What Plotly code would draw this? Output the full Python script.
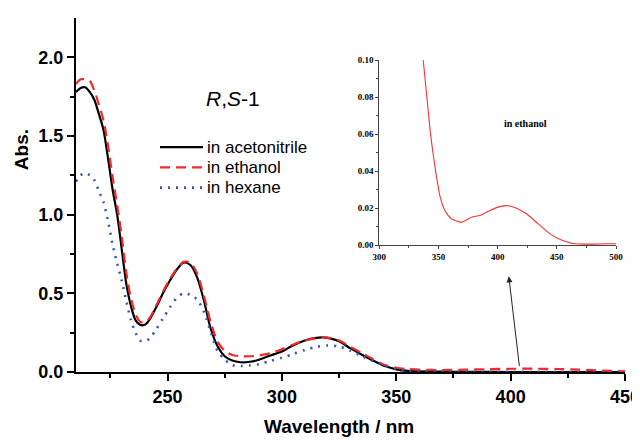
import plotly.graph_objects as go

# ---------------- data ----------------
wl_acn = [210, 212, 214, 216, 218, 220, 222, 224, 226, 228, 230, 232, 234, 236, 238, 240, 242, 245, 248, 251,
          254, 257, 260, 263, 266, 269, 272, 275, 278, 282, 286, 290, 295, 300, 305, 310, 315, 318, 320, 325,
          330, 335, 340, 345, 350, 355, 360, 370, 380, 400, 450]
abs_acn = [1.78, 1.805, 1.81, 1.78, 1.73, 1.64, 1.54, 1.36, 1.16, 1.00, 0.78, 0.56, 0.42, 0.33, 0.30, 0.30, 0.33,
           0.41, 0.50, 0.58, 0.65, 0.695, 0.68, 0.60, 0.45, 0.27, 0.16, 0.10, 0.075, 0.062, 0.065, 0.078, 0.105,
           0.13, 0.17, 0.20, 0.217, 0.22, 0.217, 0.195, 0.15, 0.11, 0.072, 0.038, 0.017, 0.007, 0.004, 0.002,
           0.001, 0.0, 0.0]

wl_eth = [210, 212, 214, 216, 218, 220, 222, 224, 226, 228, 230, 232, 234, 236, 238, 240, 242, 245, 248, 251,
          254, 257, 260, 263, 266, 269, 272, 275, 278, 282, 286, 290, 295, 300, 305, 310, 315, 318, 320, 325,
          330, 335, 340, 345, 350, 355, 360, 370, 380, 390, 400, 410, 420, 430, 440, 450]
abs_eth = [1.83, 1.86, 1.86, 1.85, 1.79, 1.70, 1.60, 1.44, 1.24, 1.06, 0.86, 0.63, 0.47, 0.37, 0.32, 0.315, 0.34,
           0.42, 0.51, 0.59, 0.655, 0.70, 0.695, 0.625, 0.48, 0.31, 0.19, 0.135, 0.11, 0.10, 0.10, 0.105, 0.12,
           0.145, 0.175, 0.20, 0.215, 0.22, 0.218, 0.20, 0.16, 0.12, 0.08, 0.045, 0.027, 0.019, 0.015, 0.0125,
           0.015, 0.018, 0.0205, 0.021, 0.019, 0.015, 0.009, 0.004]

wl_hex = [210, 212, 214, 216, 218, 220, 222, 224, 226, 228, 230, 232, 234, 236, 238, 240, 242, 245, 248, 251,
          254, 257, 260, 263, 266, 269, 272, 275, 278, 282, 286, 290, 295, 300, 305, 310, 315, 320, 325, 330,
          335, 340, 345, 350, 355, 360, 370, 400, 450]
abs_hex = [1.21, 1.25, 1.265, 1.25, 1.22, 1.15, 1.08, 0.96, 0.81, 0.69, 0.58, 0.45, 0.33, 0.25, 0.20, 0.195, 0.21,
           0.27, 0.34, 0.41, 0.47, 0.50, 0.49, 0.46, 0.38, 0.25, 0.13, 0.08, 0.046, 0.038, 0.042, 0.05, 0.07, 0.09,
           0.115, 0.14, 0.16, 0.168, 0.162, 0.135, 0.10, 0.07, 0.04, 0.02, 0.008, 0.004, 0.002, 0.001, 0.0]

# inset: ethanol, long-wavelength region
wl_ins = [337.1, 340.5, 343.3, 347.0, 351.2, 355.4, 361.0, 369.5, 377.9, 385.0, 393.4, 401.8, 408.9, 415.9,
          424.3, 434.2, 444.0, 453.9, 463.7, 477.8, 491.8, 500.0]
abs_ins = [0.100, 0.078, 0.060, 0.0426, 0.0266, 0.0187, 0.0142, 0.0124, 0.0151, 0.0160, 0.0187, 0.0208, 0.0213,
           0.0199, 0.0169, 0.0115, 0.0062, 0.0027, 0.0009, 0.0005, 0.0007, 0.0007]

series_names = ["in acetonitrile", "in ethanol", "in hexane"]
main_xticks = [250, 300, 350, 400, 450]
main_yticks = [0.0, 0.5, 1.0, 1.5, 2.0]
inset_xticks = [300, 350, 400, 450, 500]
inset_yticks = [0.00, 0.02, 0.04, 0.06, 0.08, 0.10]

# ---------------- styles ----------------
BLACK = "#000000"
RED = "#ee2a2a"
BLUE = "#3a55b5"
SANS = "Liberation Sans, Arial, sans-serif"
SERIF = "Liberation Serif, Times New Roman, serif"

OFF = 8  # page body margin offset
W, H = 640, 441 - OFF
# plot area in page pixels: x 76..625, y 13..372
L, T = 76 - OFF, 13 - OFF
R = W - (625 - OFF)
B = H - (372 - OFF)
PW, PH = W - L - R, H - T - B


def px(xp):  # page pixel x -> paper
    return (xp - 76) / PW


def py(yp):  # page pixel y -> paper
    return (372 - yp) / PH


fig = go.Figure()
fig.add_trace(go.Scatter(x=wl_acn, y=abs_acn, mode="lines", name=series_names[0],
                         line=dict(color=BLACK, width=2.2, shape="spline", smoothing=0.8)))
fig.add_trace(go.Scatter(x=wl_eth, y=abs_eth, mode="lines", name=series_names[1],
                         line=dict(color=RED, width=2.2, dash="10px,6px", shape="spline", smoothing=0.8)))
fig.add_trace(go.Scatter(x=wl_hex, y=abs_hex, mode="lines", name=series_names[2],
                         line=dict(color=BLUE, width=2.6, dash="2px,6px", shape="spline", smoothing=0.8)))
fig.add_trace(go.Scatter(x=wl_ins, y=abs_ins, mode="lines", xaxis="x2", yaxis="y2",
                         line=dict(color="#ff3030", width=1.1, shape="spline", smoothing=0.6)))

tick_font = dict(family=SANS, size=18, color="black", weight="bold")
ins_font = dict(family=SERIF, size=9, color="black", weight="bold")

fig.update_layout(
    width=W, height=H,
    margin=dict(l=L, r=R, t=T, b=B, pad=0),
    plot_bgcolor="white", paper_bgcolor="white",
    showlegend=False,
    xaxis=dict(range=[210, 450], tickvals=main_xticks, ticktext=[str(v) for v in main_xticks],
               showline=True, linecolor="black", linewidth=2, ticks="outside", ticklen=7, tickwidth=2,
               tickcolor="black", showgrid=False, zeroline=False, tickfont=tick_font,
               minor=dict(tickvals=[225, 275, 325, 375, 425], ticklen=4, tickwidth=2, tickcolor="black",
                          ticks="outside", showgrid=False),
               domain=[0, 1], anchor="y"),
    yaxis=dict(range=[0, 2.25], tickvals=main_yticks, ticktext=["%.1f" % v for v in main_yticks],
               showline=True, linecolor="black", linewidth=2, ticks="outside", ticklen=7, tickwidth=2,
               tickcolor="black", showgrid=False, zeroline=False, tickfont=tick_font,
               minor=dict(tickvals=[0.25, 0.75, 1.25, 1.75], ticklen=4, tickwidth=2, tickcolor="black",
                          ticks="outside", showgrid=False),
               domain=[0, 1], anchor="x"),
    xaxis2=dict(range=[300, 500], tickvals=inset_xticks, ticktext=[str(v) for v in inset_xticks],
                showline=True, linecolor="#444", linewidth=1.2, ticks="outside", ticklen=3, tickwidth=1,
                tickcolor="#444", showgrid=False, zeroline=False, tickfont=ins_font,
                minor=dict(tickvals=[325, 375, 425, 475], ticklen=2, tickwidth=1, tickcolor="#444",
                           ticks="outside", showgrid=False),
                domain=[px(379.3), px(616)], anchor="y2"),
    yaxis2=dict(range=[0, 0.10], tickvals=inset_yticks, ticktext=["%.2f" % v for v in inset_yticks],
                showline=True, linecolor="#444", linewidth=1.2, ticks="outside", ticklen=3, tickwidth=1,
                tickcolor="#444", showgrid=False, zeroline=False, tickfont=ins_font,
                minor=dict(tickvals=[0.01, 0.03, 0.05, 0.07, 0.09], ticklen=2, tickwidth=1, tickcolor="#444",
                           ticks="outside", showgrid=False),
                domain=[py(243.3), py(55.7)], anchor="x2"),
)

# legend drawn manually
legend_y = [144, 164.5, 185]
legend_styles = [dict(color=BLACK, width=2.2), dict(color=RED, width=2.2, dash="10px,6px"),
                 dict(color=BLUE, width=2.6, dash="2px,6px")]
for name, yy, st in zip(series_names, legend_y, legend_styles):
    fig.add_shape(type="line", xref="paper", yref="paper", x0=px(160), x1=px(203), y0=py(yy), y1=py(yy),
                  line=st)
    fig.add_annotation(xref="paper", yref="paper", x=px(205), y=py(yy), text=name, showarrow=False,
                       xanchor="left", yanchor="middle", font=dict(family=SANS, size=17, color="black"))

fig.add_annotation(xref="paper", yref="paper", x=px(204), y=py(95), text="<i>R</i>,<i>S</i>-1",
                   showarrow=False, xanchor="left", yanchor="middle",
                   font=dict(family=SANS, size=21, color="black"))

fig.add_annotation(xref="x2", yref="y2", x=423.5, y=0.066, text="in ethanol", showarrow=False,
                   xanchor="center", yanchor="middle", font=dict(family=SERIF, size=10, color="black",
                                                                  weight="bold"))

# arrow
fig.add_annotation(xref="x", yref="y", x=399.2, y=0.608, axref="x", ayref="y", ax=403.9, ay=0.029,
                   text="", showarrow=True, arrowhead=2, arrowsize=1.2, arrowwidth=1, arrowcolor="#222")

# axis titles
fig.add_annotation(xref="paper", yref="paper", x=px(21), y=py(147), text="Abs.", textangle=-90,
                   showarrow=False, xanchor="center", yanchor="middle",
                   font=dict(family=SANS, size=19, color="black", weight="bold"))
fig.add_annotation(xref="paper", yref="paper", x=px(339), y=py(427), text="Wavelength / nm",
                   showarrow=False, xanchor="center", yanchor="middle",
                   font=dict(family=SANS, size=19, color="black", weight="bold"))

fig.write_html("out.html")
